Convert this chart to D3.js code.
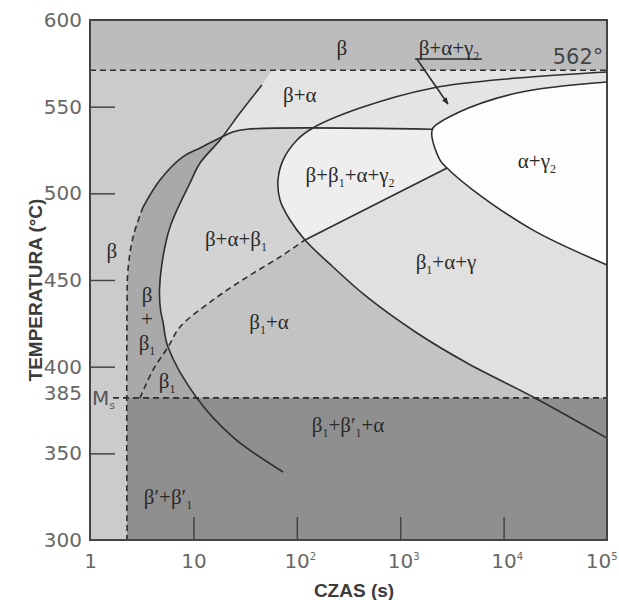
<!DOCTYPE html>
<meta charset="utf-8" />

<head>
  <style>
    body { margin: 0; background: #fff; }
    .axis text { font-family: "DejaVu Sans"; font-size: 20px; fill: #686868; }
    .axis line { stroke: #444; stroke-width: 1.5; }
    .phase { font-family: "Liberation Serif"; font-size: 21px; fill: #2a2a2a; }
    .edge { fill: none; stroke: #2e2e2e; stroke-width: 1.6; }
    .dashed { stroke-dasharray: 6, 4; }
    .title { font-family: "Liberation Sans"; font-weight: bold; font-size: 19px; fill: #3c3c3c; }
  </style>
  <script src="https://d3js.org/d3.v7.min.js"></script>
</head>

<body>
  <svg width="619" height="600"></svg>
  <script>
    // axis ticks
    const timeTicks = [1, 10, 100, 1000, 10000, 100000];
    const timeTickExp = ["", "", "2", "3", "4", "5"];
    const tempTicks = [300, 350, 385, 400, 450, 500, 550, 600];
    const tempTickMarks = [350, 400, 450, 500, 550];

    // horizontal reference lines (where they sit on the picture)
    const upperTemp = 571;   // labelled 562°
    const msTemp = 382;      // labelled 385, Ms
    const plateauTemp = 537;

    // boundary curves, [time s, temp °C]
    const startCurve = [[46, 562.5], [28.2, 546.3], [18.1, 530.8], [11.6, 517.5], [9.27, 506],
      [5.94, 480.6], [4.97, 459.8], [4.7, 444.2], [4.81, 432.7], [5.08, 425.8], [5.68, 411.3],
      [10.8, 381.9], [24.1, 359.4], [73.6, 339.2]];
    const startCurveTop = [57.5, 571];
    const bandEdge = [[2050, 537], [33, 537], [24, 535.4], [18, 531.9], [11.6, 526.2],
      [7.9, 521], [4.75, 507.7], [3.26, 492.1]];
    const bandEdgeDashed = [[3.26, 492.1], [2.61, 474.8], [2.33, 455.8], [2.28, 432.7], [2.28, 300]];
    const bigCurve = [[100000, 570], [13490, 566.5], [2075, 560.8], [408, 549.2], [143, 537.7],
      [100.5, 530.8], [73.6, 519.2], [65.8, 507.7], [68.8, 496.2], [86, 484.6], [120, 473.1],
      [224, 457.5], [477, 440.2], [1453, 419.4], [4425, 402.1], [19250, 382.5], [100000, 358.8]];
    const gammaCurve = [[100000, 564.2], [13490, 557.9], [3540, 546.3], [2075, 537.7], [2030, 532.5],
      [2427, 519.2], [2836, 514.6], [5060, 501.9], [19250, 478.8], [100000, 458.7]];
    const tieLine = [[120, 473.1], [2836, 514.6]];
    const bainiteDashed = [[3.04, 381.9], [4.07, 398.1], [5.68, 411.3], [7.42, 422.9], [15.5, 438.5],
      [33, 451.7], [68.8, 463.3], [120, 473.1]];

    const phaseLabels = [
      { text: "β", t: 273, T: 583 },
      { text: "β+α", t: 107, T: 556 },
      { text: "β+β_1+α+γ_2", t: 327, T: 510 },
      { text: "α+γ_2", t: 21000, T: 518 },
      { text: "β+α+β_1", t: 25.8, T: 473 },
      { text: "β_1+α+γ", t: 2773, T: 460 },
      { text: "β", t: 1.63, T: 466 },
      { text: "β", t: 3.56, T: 441 },
      { text: "+", t: 3.56, T: 427 },
      { text: "β_1", t: 3.56, T: 413 },
      { text: "β_1", t: 5.56, T: 391 },
      { text: "β_1+α", t: 53.8, T: 425 },
      { text: "β_1+β′_1+α", t: 313, T: 366 },
      { text: "β′+β′_1", t: 5.68, T: 324 }
    ];

    const svg = d3.select("svg");
    const x = d3.scaleLog().domain([1, 1e5]).range([90, 607]);
    const y = d3.scaleLinear().domain([300, 600]).range([540, 20]);

    const smooth = d3.line().x(d => x(d[0])).y(d => y(d[1])).curve(d3.curveCatmullRom.alpha(0.5));
    const straight = d3.line().x(d => x(d[0])).y(d => y(d[1]));

    // glue pieces into one closed outline
    function outline(pieces) {
      return pieces.map((p, i) => {
        const s = (p.smooth ? smooth : straight)(p.pts);
        return i ? "L" + s.slice(1) : s;
      }).join("") + "Z";
    }

    const last = a => a[a.length - 1];
    const tieIdx = bigCurve.findIndex(d => d[0] === 120);

    const rightOfA = outline([
      { smooth: true, pts: [startCurveTop].concat(startCurve) },
      { pts: [last(startCurve), [73.6, 300], [1e5, 300], [1e5, upperTemp], startCurveTop] }
    ]);
    const belowB = outline([
      { smooth: true, pts: bandEdge.concat(bandEdgeDashed.slice(1, 4)) },
      { pts: [[2.28, 432.7], [2.28, 300], [1e5, 300], [1e5, plateauTemp], [2050, plateauTemp]] }
    ]);
    const insideBig = outline([{ smooth: true, pts: bigCurve }, { pts: [last(bigCurve), bigCurve[0]] }]);
    const belowTie = outline([
      { pts: [[1, 473.1]].concat(tieLine) },
      { smooth: true, pts: gammaCurve.slice(6) },
      { pts: [last(gammaCurve), [1e5, 300], [1, 300]] }
    ]);
    const insideGamma = outline([{ smooth: true, pts: gammaCurve }, { pts: [last(gammaCurve), gammaCurve[0]] }]);
    const belowBainite = outline([
      { smooth: true, pts: bainiteDashed },
      { smooth: true, pts: bigCurve.slice(tieIdx) },
      { pts: [last(bigCurve), [1e5, 300], [3.04, 300]] }
    ]);

    const defs = svg.append("defs");
    defs.append("clipPath").attr("id", "clipB").append("path").attr("d", belowB);
    defs.append("clipPath").attr("id", "clipA").append("path").attr("d", rightOfA);
    defs.append("clipPath").attr("id", "clipBig").append("path").attr("d", insideBig);
    defs.append("marker").attr("id", "arrow").attr("viewBox", "0 0 10 10")
      .attr("refX", 9).attr("refY", 5).attr("markerWidth", 9).attr("markerHeight", 7)
      .attr("markerUnits", "userSpaceOnUse").attr("orient", "auto")
      .append("path").attr("d", "M0,1L10,5L0,9Z").attr("fill", "#2e2e2e");

    const fills = svg.append("g");
    fills.append("rect").attr("x", x(1)).attr("y", y(600)).attr("width", x(1e5) - x(1))
      .attr("height", y(300) - y(600)).attr("fill", "#cbcbcb");
    fills.append("rect").attr("x", x(1)).attr("y", y(600)).attr("width", x(1e5) - x(1))
      .attr("height", y(upperTemp) - y(600)).attr("fill", "#bcbcbc");
    fills.append("path").attr("d", rightOfA).attr("fill", "#e4e4e4");
    fills.append("path").attr("d", belowB).attr("fill", "#a9a9a9");
    fills.append("path").attr("d", rightOfA).attr("fill", "#d3d3d3").attr("clip-path", "url(#clipB)");
    fills.append("path").attr("d", insideBig).attr("fill", "#eeeeee").attr("clip-path", "url(#clipB)");
    fills.append("path").attr("d", belowTie).attr("fill", "#e0e0e0").attr("clip-path", "url(#clipBig)");
    fills.append("path").attr("d", insideGamma).attr("fill", "#fdfdfd");
    fills.append("path").attr("d", belowBainite).attr("fill", "#c3c3c3").attr("clip-path", "url(#clipA)");
    fills.append("rect").attr("x", x(2.28)).attr("y", y(msTemp)).attr("width", x(1e5) - x(2.28))
      .attr("height", y(300) - y(msTemp)).attr("fill", "#8f8f8f");

    // boundaries
    const lines = svg.append("g");
    lines.append("path").attr("class", "edge dashed").attr("stroke-dasharray", "5,3")
      .attr("d", straight([[1, upperTemp], [1e5, upperTemp]]));
    lines.append("path").attr("class", "edge dashed").attr("stroke-dasharray", "5,3")
      .attr("d", straight([[1.67, msTemp], [1e5, msTemp]]));
    lines.append("path").attr("class", "edge").attr("d", smooth(startCurve));
    lines.append("path").attr("class", "edge").attr("d", smooth(bandEdge));
    lines.append("path").attr("class", "edge dashed").attr("d", smooth(bandEdgeDashed));
    lines.append("path").attr("class", "edge").attr("d", smooth(bigCurve));
    lines.append("path").attr("class", "edge").attr("d", smooth(gammaCurve));
    lines.append("path").attr("class", "edge").attr("d", straight(tieLine));
    lines.append("path").attr("class", "edge dashed").attr("d", smooth(bainiteDashed));

    // plot frame
    svg.append("rect").attr("x", x(1)).attr("y", y(600)).attr("width", x(1e5) - x(1))
      .attr("height", y(300) - y(600)).attr("fill", "none").attr("stroke", "#444").attr("stroke-width", 2);

    // axes with inward ticks
    const yAxis = svg.append("g").attr("class", "axis").attr("transform", "translate(" + x(1) + ",0)")
      .call(d3.axisLeft(y).tickValues(tempTicks).tickSize(-25).tickPadding(8));
    yAxis.select(".domain").remove();
    yAxis.selectAll(".tick line").attr("display", d => tempTickMarks.includes(d) ? null : "none");

    const xAxis = svg.append("g").attr("class", "axis").attr("transform", "translate(0," + y(300) + ")")
      .call(d3.axisBottom(x).tickValues(timeTicks).tickSize(-23).tickPadding(14).tickFormat(""));
    xAxis.select(".domain").remove();
    xAxis.selectAll(".tick line").attr("display", d => d === 1 || d === 1e5 ? "none" : null);
    xAxis.selectAll(".tick text").each(function (d, i) {
      const t = d3.select(this);
      const base = d === 1 ? "1" : "10";
      t.append("tspan").text(base);
      if (timeTickExp[i]) {
        t.attr("x", 3);
        t.append("tspan").attr("font-size", "10px").attr("dy", "-8").text(timeTickExp[i]);
      }
      // keep the last label inside the page
      if (d === 1e5) t.attr("text-anchor", "end").attr("x", 10);
    });

    // Ms mark next to the 385 label
    const ms = svg.append("text").attr("x", x(1) + 2).attr("y", y(msTemp) + 7)
      .style("font-family", "DejaVu Sans").style("font-size", "20px").attr("fill", "#555");
    ms.append("tspan").text("M");
    ms.append("tspan").attr("font-size", "11px").attr("dy", "4").text("s");

    // 562° label
    svg.append("text").attr("x", x(52400)).attr("y", y(578.6) + 7).attr("text-anchor", "middle")
      .style("font-family", "DejaVu Sans").style("font-size", "21px").attr("fill", "#444").text("562°");

    // phase labels
    function rich(sel, str) {
      str.split(/(_.)/).filter(s => s).forEach((p, i, all) => {
        if (p[0] === "_") {
          sel.append("tspan").attr("font-size", "12px").attr("dy", "5").text(p[1]);
        } else {
          const ts = sel.append("tspan").text(p);
          if (i > 0 && all[i - 1][0] === "_") ts.attr("dy", "-5");
        }
      });
    }
    phaseLabels.forEach(l => {
      const t = svg.append("text").attr("class", "phase").attr("text-anchor", "middle")
        .attr("x", x(l.t)).attr("y", y(l.T) + 6);
      rich(t, l.text);
    });

    // underlined β+α+γ2 with arrow into the thin band
    const g2 = svg.append("text").attr("class", "phase").attr("text-anchor", "middle")
      .attr("x", x(2965)).attr("y", y(583) + 6);
    rich(g2, "β+α+γ_2");
    svg.append("path").attr("class", "edge").attr("stroke-width", 1.3)
      .attr("d", straight([[1390, 577.5], [6180, 577.5]]));
    svg.append("path").attr("class", "edge").attr("stroke-width", 1.3).attr("marker-end", "url(#arrow)")
      .attr("d", straight([[1450, 577.5], [2897, 551.5]]));

    // axis titles
    svg.append("text").attr("class", "title").attr("text-anchor", "middle")
      .attr("transform", "translate(42,290) rotate(-90)").text("TEMPERATURA (°C)");
    svg.append("text").attr("class", "title").attr("text-anchor", "middle")
      .attr("x", 354).attr("y", 597).text("CZAS (s)");
  </script>
</body>
